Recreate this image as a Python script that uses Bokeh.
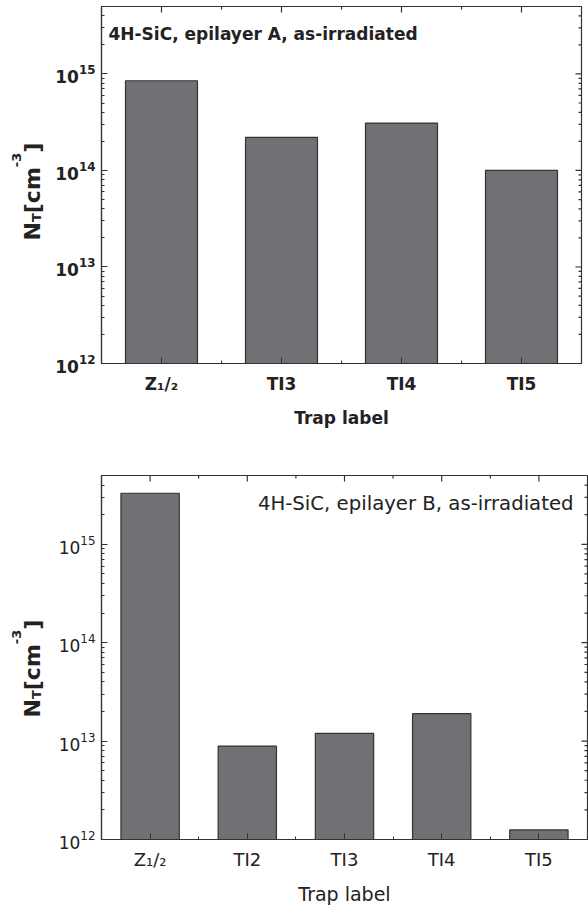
import math
from bokeh.plotting import figure
from bokeh.models import Range1d, FixedTicker, Label
from bokeh.layouts import column, row
from bokeh.embed import file_html
from bokeh.resources import INLINE

# ---------------- data ----------------
top_traps = ["Z₁/₂", "TI3", "TI4", "TI5"]
top_nt = [8.5e14, 2.2e14, 3.1e14, 1.0e14]
top_note = "4H-SiC, epilayer A, as-irradiated"

bot_traps = ["Z₁/₂", "TI2", "TI3", "TI4", "TI5"]
bot_nt = [3.3e15, 8.9e12, 1.2e13, 1.9e13, 1.25e12]
bot_note = "4H-SiC, epilayer B, as-irradiated"

y_lo, y_hi = 1e12, 5e15
decades = [12, 13, 14, 15]
x_title = "Trap label"
# y title pieces: (text, role)  role: base / sub / sup
y_title = [("N", "base"), ("T", "sub"), ("[cm", "base"), ("-3", "sup"), ("]", "base")]

FONT = "DejaVu Sans"
BAR = "#707175"
INK = "#333333"
TXT = "#222222"
STRIP_W = 44


def build(traps, vals, note, weight, sizes, geom):
    n = len(traps)
    xs = list(range(1, n + 1))
    p = figure(x_range=Range1d(0.5, n + 0.5), y_range=Range1d(y_lo, y_hi),
               y_axis_type="log", output_backend="svg", toolbar_location=None,
               frame_width=geom["fw"], frame_height=geom["fh"],
               min_border_left=geom["l"] - STRIP_W, min_border_right=geom["r"],
               min_border_top=geom["t"], min_border_bottom=geom["b"])
    p.grid.visible = False
    p.outline_line_color = INK
    p.outline_line_width = 1.2
    p.background_fill_color = "white"
    p.border_fill_color = "white"

    p.vbar(x=xs, top=vals, bottom=y_lo, width=0.6, fill_color=BAR,
           line_color=INK, line_width=1.2)

    x_minor = [x + 0.5 for x in xs[:-1]]
    majors = [10.0 ** d for d in decades]
    minors = [k * 10.0 ** d for d in decades for k in range(2, 10) if k * 10.0 ** d < y_hi]
    xt = FixedTicker(ticks=xs, minor_ticks=x_minor)
    yt = FixedTicker(ticks=majors, minor_ticks=minors)

    def style(ax):
        ax.axis_line_color = INK
        ax.axis_line_width = 1.2
        ax.major_tick_line_color = INK
        ax.minor_tick_line_color = INK
        ax.major_tick_in = geom["maj"]
        ax.major_tick_out = 0
        ax.minor_tick_in = geom["min"]
        ax.minor_tick_out = 0

    xa = p.xaxis[0]
    xa.ticker = xt
    style(xa)
    xa.major_label_overrides = {i + 1: t for i, t in enumerate(traps)}
    xa.major_label_text_font = FONT
    xa.major_label_text_font_size = sizes["xt"]
    xa.major_label_text_font_style = weight
    xa.major_label_text_color = TXT
    xa.major_label_standoff = geom["xstand"]
    xa.axis_label = x_title
    xa.axis_label_text_font = FONT
    xa.axis_label_text_font_size = sizes["xl"]
    xa.axis_label_text_font_style = weight
    xa.axis_label_text_color = TXT
    xa.axis_label_standoff = geom["xlstand"]

    ya = p.yaxis[0]
    ya.ticker = yt
    style(ya)
    ya.major_label_text_font = FONT
    ya.major_label_text_font_size = sizes["yt"]
    ya.major_label_text_font_style = weight
    ya.major_label_text_color = TXT
    ya.major_label_standoff = 6

    # mirrored ticks on the top and right frame edges (inward)
    tick_kw = dict(length_units="screen", line_color=INK, line_width=1.2)
    p.ray(x=[n + 0.5] * len(majors), y=majors, length=geom["maj"], angle=math.pi, **tick_kw)
    p.ray(x=[n + 0.5] * len(minors), y=minors, length=geom["min"], angle=math.pi, **tick_kw)
    p.ray(x=xs, y=[y_hi] * len(xs), length=geom["maj"], angle=-math.pi / 2, **tick_kw)
    p.ray(x=x_minor, y=[y_hi] * len(x_minor), length=geom["min"], angle=-math.pi / 2, **tick_kw)

    # note
    if geom["note_right"]:
        p.add_layout(Label(x=n + 0.5, y=y_hi, x_offset=geom["nx"], y_offset=geom["ny"],
                           text=note, text_align="right", text_baseline="top",
                           text_font=FONT, text_font_size=sizes["note"],
                           text_font_style=weight, text_color=TXT))
    else:
        p.add_layout(Label(x=0.5, y=y_hi, x_offset=geom["nx"], y_offset=geom["ny"],
                           text=note, text_align="left", text_baseline="top",
                           text_font=FONT, text_font_size=sizes["note"],
                           text_font_style=weight, text_color=TXT))
    height = geom["t"] + geom["fh"] + geom["b"]
    return p, height


top_geom = dict(fw=480, fh=357, l=98, r=10, t=6, b=77, maj=6, min=3,
                xstand=10, xlstand=11, note_right=False, nx=7, ny=-17)
bot_geom = dict(fw=486, fh=364, l=101, r=1, t=35, b=67, maj=6, min=3,
                xstand=9, xlstand=10, note_right=True, nx=-14, ny=-16)

top, h_top = build(top_traps, top_nt, top_note, "bold",
                   dict(xt="17px", xl="17px", yt="17px", note="17px"), top_geom)
bot, h_bot = build(bot_traps, bot_nt, bot_note, "normal",
                   dict(xt="18px", xl="19px", yt="17px", note="19.7px"), bot_geom)

# one tall strip on the left holding both rotated y titles  N_T [cm^-3]
H = h_top + h_bot
s = figure(width=STRIP_W, height=H, x_range=Range1d(0, STRIP_W), y_range=Range1d(0, H),
           x_axis_location=None, y_axis_location=None, output_backend="svg",
           toolbar_location=None, min_border=0, frame_width=STRIP_W, frame_height=H)
s.grid.visible = False
s.outline_line_color = None
s.background_fill_color = "white"
s.border_fill_color = "white"

big, small = 22, 13
em = {"N": 0.837, "T": 0.682, "[cm": 2.092, "-3": 1.111, "]": 0.457}
shift = {"base": 0, "sub": 4, "sup": -16}
# (baseline x, bottom end of the title measured from the page top)
title_pos = [(32, 240), (32, h_top + 277)]
for bx, start in title_pos:
    ypos = H - start
    for txt, role in y_title:
        fs = big if role == "base" else small
        s.add_layout(Label(x=bx + shift[role], y=ypos, text=txt, angle=math.pi / 2,
                           text_align="left", text_baseline="alphabetic", text_font=FONT,
                           text_font_size=f"{fs}px", text_font_style="bold",
                           text_color=TXT))
        ypos += em[txt] * fs

layout = row(s, column(top, bot))
open("out.html", "w").write(file_html(layout, INLINE))
